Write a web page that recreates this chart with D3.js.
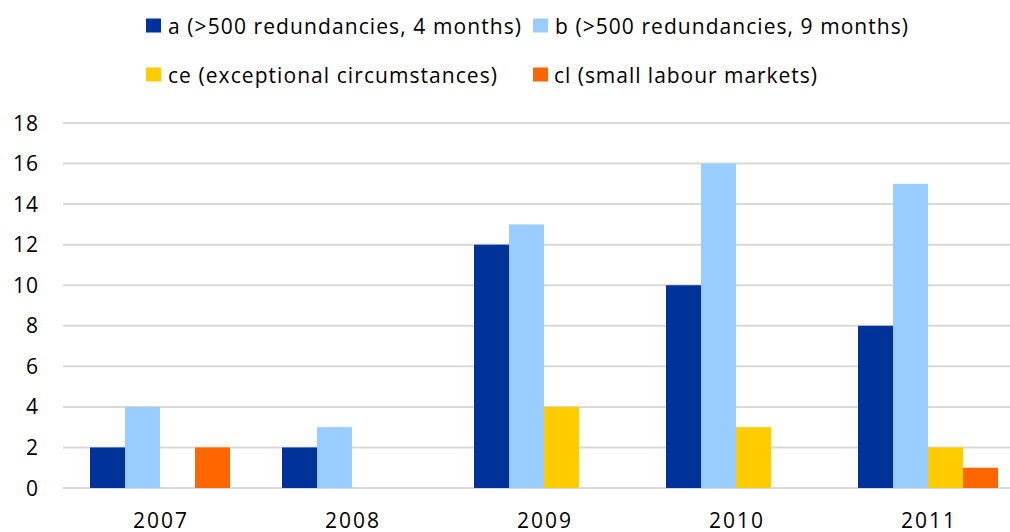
<!DOCTYPE html>
<html>
<head>
<meta charset="utf-8">
<script src="https://cdn.jsdelivr.net/npm/d3@7"></script>
<style>
  html, body { margin: 0; padding: 0; background: #fff; overflow: hidden; }
  svg text { font-family: "Open Sans", "Liberation Sans", sans-serif; fill: #000; }
</style>
</head>
<body>
<svg id="chart"></svg>
<script>
// data
const years = ["2007", "2008", "2009", "2010", "2011"];
const seriesNames = [
  "a (>500 redundancies, 4 months)",
  "b (>500 redundancies, 9 months)",
  "ce (exceptional circumstances)",
  "cl (small labour markets)"
];
const seriesA = [2, 2, 12, 10, 8];
const seriesB = [4, 3, 13, 16, 15];
const seriesCe = [0, 0, 4, 3, 2];
const seriesCl = [2, 0, 0, 0, 1];
const yTicks = [0, 2, 4, 6, 8, 10, 12, 14, 16, 18];

const colors = ["#003399", "#99ccff", "#ffcc00", "#ff6600"];
const allSeries = [seriesA, seriesB, seriesCe, seriesCl];

const width = 1010, height = 532;
const svg = d3.select("#chart").attr("width", width).attr("height", height);

// scales (plot runs past the right edge, like the cropped original)
const x0 = d3.scaleBand()
  .domain(years)
  .range([64, 1024])
  .paddingInner(52 / 192)
  .paddingOuter(26 / 192);

const x1 = d3.scaleBand()
  .domain(d3.range(seriesNames.length))
  .range([0, x0.bandwidth()]);

const y = d3.scaleLinear().domain([0, 18]).range([488, 123]);

// gridlines
svg.append("g")
  .selectAll("line")
  .data(yTicks)
  .enter()
  .append("line")
  .attr("x1", 63)
  .attr("x2", width)
  .attr("y1", d => y(d))
  .attr("y2", d => y(d))
  .attr("stroke", "#d9d9d9")
  .attr("stroke-width", 2);

// y labels
svg.append("g")
  .selectAll("text")
  .data(yTicks)
  .enter()
  .append("text")
  .attr("x", 39)
  .attr("y", d => y(d))
  .attr("dy", "0.36em")
  .attr("text-anchor", "end")
  .style("font-size", "21px")
  .style("letter-spacing", "1px")
  .text(d => d);

// bars
const groups = svg.append("g")
  .selectAll("g")
  .data(years)
  .enter()
  .append("g")
  .attr("transform", d => "translate(" + x0(d) + ",0)");

groups.selectAll("rect")
  .data((d, i) => allSeries.map((s, k) => ({ k: k, v: s[i] })))
  .enter()
  .append("rect")
  .filter(d => d.v > 0)
  .attr("x", d => x1(d.k))
  .attr("width", x1.bandwidth())
  .attr("y", d => y(d.v))
  .attr("height", d => y(0) - y(d.v))
  .attr("fill", d => colors[d.k]);

// x labels (cut at the bottom edge as in the original)
svg.append("g")
  .selectAll("text")
  .data(years)
  .enter()
  .append("text")
  .attr("x", d => x0(d) + x0.bandwidth() / 2 - 27)
  .attr("y", 528)
  .attr("textLength", 54)
  .attr("lengthAdjust", "spacing")
  .style("font-size", "21px")
  .text(d => d);

// legend: marker left, text left and text width for each entry
const legendPos = [
  { x: 146, y: 25.5, tx: 168, w: 353 },
  { x: 533, y: 25.5, tx: 555, w: 353 },
  { x: 146, y: 74.5, tx: 168, w: 329 },
  { x: 533, y: 74.5, tx: 554, w: 263 }
];
const legend = svg.append("g")
  .selectAll("g")
  .data(seriesNames)
  .enter()
  .append("g");

legend.append("rect")
  .attr("x", (d, i) => legendPos[i].x)
  .attr("y", (d, i) => legendPos[i].y - 7)
  .attr("width", 15)
  .attr("height", 14)
  .attr("fill", (d, i) => colors[i]);

legend.append("text")
  .attr("x", (d, i) => legendPos[i].tx)
  .attr("y", (d, i) => legendPos[i].y + 8.5)
  .attr("textLength", (d, i) => legendPos[i].w)
  .attr("lengthAdjust", "spacing")
  .style("font-size", "21px")
  .text(d => d);
</script>
</body>
</html>
